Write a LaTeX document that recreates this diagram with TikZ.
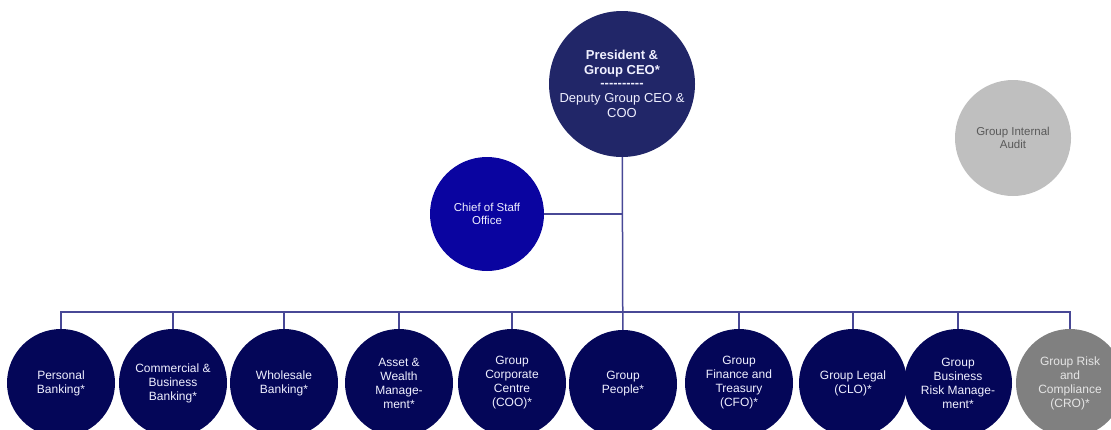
\documentclass[tikz,border=0pt]{standalone}
\usepackage{xcolor}
\usepackage{tikz}
\usepackage{fontspec}
\setmainfont{Liberation Sans}

\definecolor{ceoblue}{RGB}{33,38,104}
\definecolor{staffblue}{RGB}{10,4,160}
\definecolor{unitblue}{RGB}{4,6,88}
\definecolor{linkblue}{RGB}{72,72,150}
\definecolor{auditgrey}{RGB}{191,191,191}
\definecolor{riskgrey}{RGB}{128,128,128}

\begin{document}
\begin{tikzpicture}[x=1pt, y=-1pt,
      disc/.style={circle, inner sep=0pt, align=center, text=white!94!blue},
      ceo/.style={disc, fill=ceoblue, minimum size=146pt,
                  font=\fontsize{13}{15}\selectfont},
      staff/.style={disc, fill=staffblue, minimum size=114pt,
                    font=\fontsize{11.5}{13}\selectfont},
      audit/.style={disc, fill=auditgrey, text=black!65, minimum size=116pt,
                    font=\fontsize{11.5}{13.5}\selectfont},
      unit/.style={disc, fill=unitblue, minimum size=108pt,
                   font=\fontsize{12}{14}\selectfont},
      risk/.style={unit, fill=riskgrey, text=white!90!black},
      link/.style={draw=linkblue, line width=1.5pt},
    ]
    \useasboundingbox (0,0) rectangle (1111,429);

    % President & Group CEO
    \node[ceo] (ceo) at (622,84) {\textbf{President \&}\\\textbf{Group CEO*}\\[-2pt]
      \textbf{-{}-{}-{}-{}-{}-{}-{}-{}-{}-}\\Deputy Group CEO \&\\COO};

    % Chief of Staff
    \node[staff] (cos) at (487,214) {Chief of Staff\\Office};

    % Group Internal Audit
    \node[audit] (gia) at (1013,138) {Group Internal\\Audit};

    % Business units
    \node[unit] (pb) at (61,383) {Personal\\Banking*};
    \node[unit] (cbb) at (173,383) {Commercial \&\\Business\\Banking*};
    \node[unit] (wb) at (284,383) {Wholesale\\Banking*};
    \node[unit] (awm) at (399,383) {Asset \&\\Wealth\\Manage-\\ment*};
    \node[unit] (gcc) at (512,383) {Group\\Corporate\\Centre\\(COO)*};
    \node[unit] (gp) at (623,384) {Group\\People*};
    \node[unit] (gft) at (739,383) {Group\\Finance and\\Treasury\\(CFO)*};
    \node[unit] (gl) at (853,383) {Group Legal\\(CLO)*};
    \node[unit] (gbr) at (958,383) {Group\\Business\\Risk Manage-\\ment*};
    \node[risk] (grc) at (1070,383) {Group Risk\\and\\Compliance\\(CRO)*};

    % Bar
    \coordinate (bar) at (0,312);

    % Lines
    \draw[link] (ceo) -- (gp);
    \draw[link] (cos) -- (cos -| ceo);
    \draw[link] (pb.north) |- (bar -| gp) -| (grc.north);
    \draw[link] (cbb.north) -- (cbb.north |- bar);
    \draw[link] (wb.north) -- (wb.north |- bar);
    \draw[link] (awm.north) -- (awm.north |- bar);
    \draw[link] (gcc.north) -- (gcc.north |- bar);
    \draw[link] (gft.north) -- (gft.north |- bar);
    \draw[link] (gl.north) -- (gl.north |- bar);
    \draw[link] (gbr.north) -- (gbr.north |- bar);

  \end{tikzpicture}
\end{document}
